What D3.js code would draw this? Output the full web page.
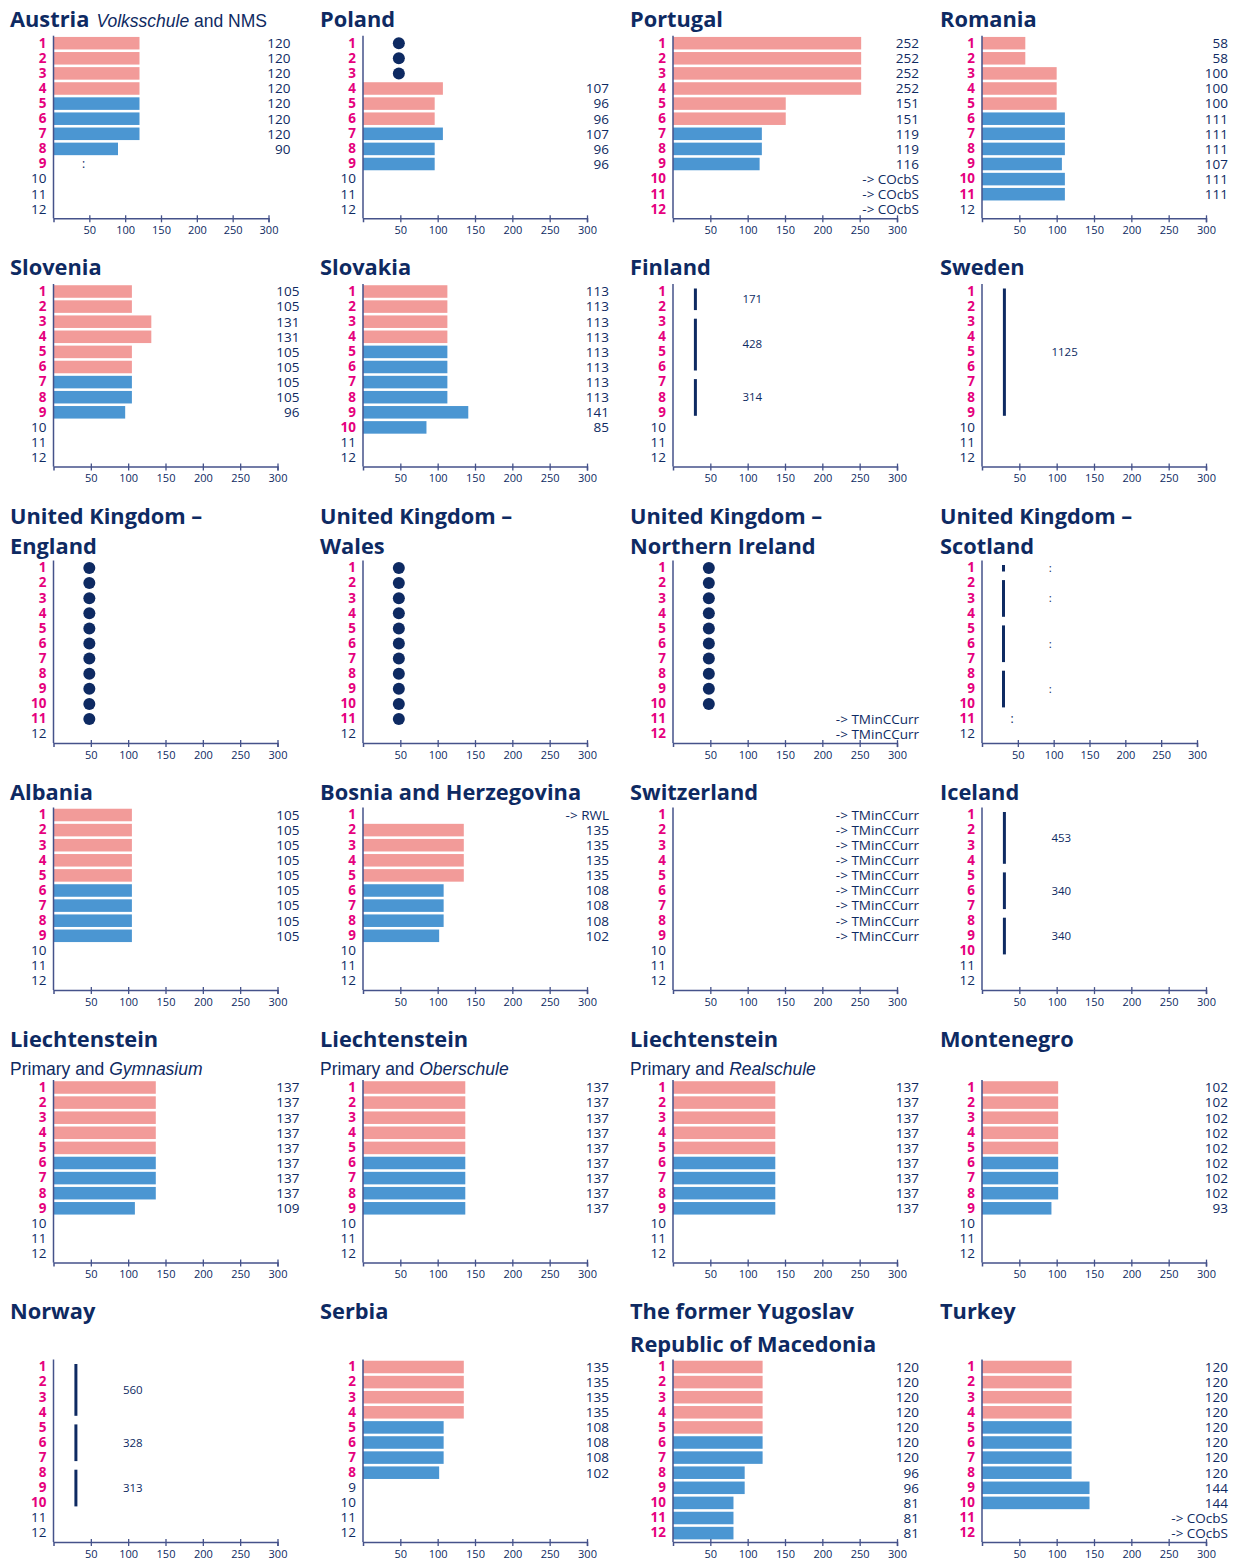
<!DOCTYPE html>
<html><head><meta charset="utf-8">
<script src="https://cdn.jsdelivr.net/npm/d3@7"></script>
<style>
body{margin:0;background:#fff;}
svg{display:block;}
</style></head><body>
<svg id="chart" width="1236" height="1562"></svg>
<script>
// ---------------- DATA ----------------
const grades = [1,2,3,4,5,6,7,8,9,10,11,12];
const xTicks = [50,100,150,200,250,300];

const titles = [
  ["Austria"], ["Poland"], ["Portugal"], ["Romania"],
  ["Slovenia"], ["Slovakia"], ["Finland"], ["Sweden"],
  ["United Kingdom –","England"], ["United Kingdom –","Wales"], ["United Kingdom –","Northern Ireland"], ["United Kingdom –","Scotland"],
  ["Albania"], ["Bosnia and Herzegovina"], ["Switzerland"], ["Iceland"],
  ["Liechtenstein"], ["Liechtenstein"], ["Liechtenstein"], ["Montenegro"],
  ["Norway"], ["Serbia"], ["The former Yugoslav","Republic of Macedonia"], ["Turkey"]
];

// subtitle parts: [text, italic]
const subtitles = {
  0: [["Volksschule", true], [" and NMS", false]],
  16: [["Primary and ", false], ["Gymnasium", true]],
  17: [["Primary and ", false], ["Oberschule", true]],
  18: [["Primary and ", false], ["Realschule", true]]
};
const inlineSubtitle = [0];

// pink bars (first series), keyed by grade
const pinkValues = [
  {1:120,2:120,3:120,4:120},
  {4:107,5:96,6:96},
  {1:252,2:252,3:252,4:252,5:151,6:151},
  {1:58,2:58,3:100,4:100,5:100},
  {1:105,2:105,3:131,4:131,5:105,6:105},
  {1:113,2:113,3:113,4:113},
  {}, {},
  {}, {}, {}, {},
  {1:105,2:105,3:105,4:105,5:105},
  {2:135,3:135,4:135,5:135},
  {}, {},
  {1:137,2:137,3:137,4:137,5:137},
  {1:137,2:137,3:137,4:137,5:137},
  {1:137,2:137,3:137,4:137,5:137},
  {1:102,2:102,3:102,4:102,5:102},
  {},
  {1:135,2:135,3:135,4:135},
  {1:120,2:120,3:120,4:120,5:120},
  {1:120,2:120,3:120,4:120}
];

// blue bars (second series), keyed by grade
const blueValues = [
  {5:120,6:120,7:120,8:90},
  {7:107,8:96,9:96},
  {7:119,8:119,9:116},
  {6:111,7:111,8:111,9:107,10:111,11:111},
  {7:105,8:105,9:96},
  {5:113,6:113,7:113,8:113,9:141,10:85},
  {}, {},
  {}, {}, {}, {},
  {6:105,7:105,8:105,9:105},
  {6:108,7:108,8:108,9:102},
  {}, {},
  {6:137,7:137,8:137,9:109},
  {6:137,7:137,8:137,9:137},
  {6:137,7:137,8:137,9:137},
  {6:102,7:102,8:102,9:93},
  {},
  {5:108,6:108,7:108,8:102},
  {6:120,7:120,8:96,9:96,10:81,11:81,12:81},
  {5:120,6:120,7:120,8:120,9:144,10:144}
];

// grades shown with a dot marker
const dotGrades = {1:[1,2,3], 8:[1,2,3,4,5,6,7,8,9,10,11], 9:[1,2,3,4,5,6,7,8,9,10,11], 10:[1,2,3,4,5,6,7,8,9,10]};

// grouped totals: [fromGrade, toGrade, label]
const lineGroups = {
  6: [[1,2,"171"],[3,6,"428"],[7,9,"314"]],
  7: [[1,9,"1125"]],
  11: [[1,1,":"],[2,4,":"],[5,7,":"],[8,10,":"]],
  15: [[1,4,"453"],[5,7,"340"],[8,10,"340"]],
  20: [[1,4,"560"],[5,7,"328"],[8,10,"313"]]
};

// right-hand notes: grade -> text
const notes = {
  2: {10:"-> COcbS",11:"-> COcbS",12:"-> COcbS"},
  10: {11:"-> TMinCCurr",12:"-> TMinCCurr"},
  13: {1:"-> RWL"},
  14: {1:"-> TMinCCurr",2:"-> TMinCCurr",3:"-> TMinCCurr",4:"-> TMinCCurr",5:"-> TMinCCurr",6:"-> TMinCCurr",7:"-> TMinCCurr",8:"-> TMinCCurr",9:"-> TMinCCurr"},
  23: {11:"-> COcbS",12:"-> COcbS"}
};

// missing data ":" in the plot
const missingGrades = {0:[9], 11:[11]};

// number of highlighted (compulsory) grades per panel
const compulsoryGrades = [9,9,12,11, 9,10,9,9, 11,11,12,11, 9,9,9,10, 9,9,9,9, 10,8,12,12];

// ---------------- LAYOUT ----------------
const colLeft = [53.5, 363, 673, 982];
const colTitle = [10, 320, 630, 940];
const rows = [
  {title:27, gap:30, cat1:43.2},
  {title:275, gap:30, cat1:291.5},
  {title:523.5, gap:30.5, cat1:568},
  {title:800, gap:30, cat1:815},
  {title:1047, gap:28, cat1:1087.5},
  {title:1319, gap:32.5, cat1:1367}
];
const step = 15.1;
const C = {pink:"#f29b99", blue:"#4b96d2", navy:"#0e2a62", mag:"#e5007d", axis:"#45528a"};
const DOT_X = 48, LINE_X = 30, MISSING_X = 42, GROUP_LABEL_X = 93;
const SANS = "'Open Sans', sans-serif";
const NARROW = "'Liberation Sans', Arial, sans-serif";

const svg = d3.select("#chart");

titles.forEach((tl, i) => {
  const r = Math.floor(i/4), c = i % 4;
  const R = rows[r];
  const L = colLeft[c];
  const W = (i === 0 || i === 11) ? 215 : 224;
  const g = svg.append("g");

  const x = d3.scaleLinear().domain([0,300]).range([L, L+W]);
  const y = d3.scaleBand().domain(grades)
    .range([R.cat1 - step/2, R.cat1 + 11.5*step])
    .paddingInner(0.17).paddingOuter(0.085);
  const yc = d => y(d) + y.bandwidth()/2;
  const axisY = R.cat1 + 11*step + 9;

  // title
  tl.forEach((t, k) => {
    g.append("text").attr("class","title").attr("x", colTitle[c]).attr("y", R.title + k*R.gap)
      .attr("font-family", SANS).attr("font-weight",700)
      .attr("font-size",21.8).attr("fill",C.navy).text(t);
  });
  if (subtitles[i]) {
    let sx, sy;
    if (inlineSubtitle.includes(i)) {
      const tw = g.select("text.title").node().getComputedTextLength();
      sx = colTitle[c] + tw + 7; sy = R.title;
    } else { sx = colTitle[c]; sy = R.title + R.gap; }
    const st = g.append("text").attr("x", sx).attr("y", sy)
      .attr("font-family", NARROW)
      .attr("font-size",17.5).attr("fill",C.navy);
    subtitles[i].forEach(([t, it]) => st.append("tspan").attr("font-style", it ? "italic" : "normal").text(t));
  }

  // bars
  const barData = [];
  Object.entries(pinkValues[i]).forEach(([k,v]) => barData.push({g:+k, v, col:C.pink}));
  Object.entries(blueValues[i]).forEach(([k,v]) => barData.push({g:+k, v, col:C.blue}));
  g.selectAll(".bar").data(barData).join("rect")
    .attr("x", x(0)).attr("y", d => y(d.g))
    .attr("width", d => x(d.v) - x(0)).attr("height", y.bandwidth())
    .attr("fill", d => d.col);
  g.selectAll(".val").data(barData).join("text")
    .attr("x", L + W + 22).attr("y", d => yc(d.g)).attr("dy","0.36em")
    .attr("text-anchor","end").attr("font-family", SANS)
    .attr("font-size",13.5).attr("fill",C.navy).text(d => d.v);

  // dots
  if (dotGrades[i]) {
    g.selectAll(".dot").data(dotGrades[i]).join("circle")
      .attr("cx", x(DOT_X)).attr("cy", d => yc(d)).attr("r", 6).attr("fill", C.navy);
  }

  // grouped lines
  if (lineGroups[i]) {
    g.selectAll(".grp").data(lineGroups[i]).join("line")
      .attr("x1", x(LINE_X)).attr("x2", x(LINE_X))
      .attr("y1", d => yc(d[0]) - 3).attr("y2", d => yc(d[1]) + 3.5)
      .attr("stroke", C.navy).attr("stroke-width", 3);
    g.selectAll(".grpl").data(lineGroups[i]).join("text")
      .attr("x", x(GROUP_LABEL_X)).attr("y", d => (yc(d[0]) + yc(d[1]))/2).attr("dy","0.36em")
      .attr("font-family", SANS)
      .attr("font-size",11.5).attr("fill",C.navy).text(d => d[2]);
  }

  // notes
  if (notes[i]) {
    g.selectAll(".note").data(Object.entries(notes[i])).join("text")
      .attr("x", L + W + 22).attr("y", d => yc(+d[0])).attr("dy","0.36em")
      .attr("text-anchor","end").attr("font-family", SANS)
      .attr("font-size",13.5).attr("fill",C.navy).text(d => d[1]);
  }
  if (missingGrades[i]) {
    g.selectAll(".miss").data(missingGrades[i]).join("text")
      .attr("x", x(MISSING_X)).attr("y", d => yc(d)).attr("dy","0.36em")
      .attr("text-anchor","middle").attr("font-family", SANS)
      .attr("font-size",12).attr("fill",C.navy).text(":");
  }

  // vertical axis with grade labels
  g.append("line").attr("x1", L).attr("x2", L)
    .attr("y1", R.cat1 - 7.5).attr("y2", axisY)
    .attr("stroke", C.axis).attr("stroke-width", 1.5);
  const ya = g.append("g").attr("transform", `translate(${L},0)`)
    .call(d3.axisLeft(y).tickSize(0).tickPadding(7));
  ya.select(".domain").remove();
  ya.selectAll(".tick text")
    .attr("font-family", SANS)
    .attr("font-size", 13.5)
    .attr("font-weight", d => d <= compulsoryGrades[i] ? 700 : 400)
    .attr("fill", d => d <= compulsoryGrades[i] ? C.mag : C.navy);

  // horizontal axis
  const xa = g.append("g").attr("transform", `translate(0,${axisY})`)
    .call(d3.axisBottom(x).tickValues(xTicks).tickSizeOuter(0).tickSize(4).tickPadding(4));
  xa.select(".domain").attr("stroke", C.axis).attr("stroke-width", 1.5);
  xa.selectAll(".tick line").attr("y1", -3).attr("y2", 4).attr("stroke", C.axis).attr("stroke-width", 1.3);
  xa.selectAll(".tick text").attr("font-family", SANS)
    .attr("font-size", 11).attr("fill", C.navy);
});
</script>
</body></html>
